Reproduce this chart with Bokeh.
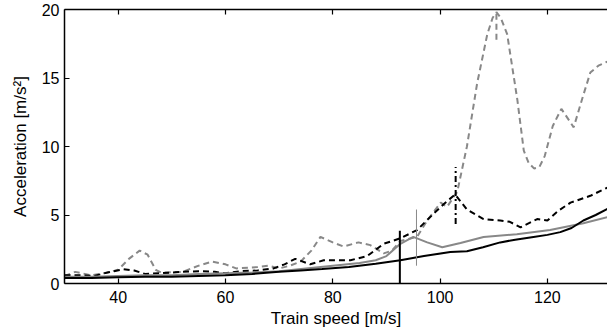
from bokeh.plotting import figure
from bokeh.models import LinearAxis, Range1d, FixedTicker
from bokeh.embed import file_html
from bokeh.resources import INLINE

# ---- data ----
bs_x = [30, 35, 40, 45, 50, 55, 60, 65, 70, 74, 78, 83, 88, 92.6, 97, 101.9, 105, 108, 111.2, 114, 117.4, 120, 122.4, 124.5, 126.7, 129, 131.2]
bs_y = [0.4, 0.4, 0.45, 0.5, 0.5, 0.55, 0.6, 0.7, 0.85, 0.95, 1.05, 1.2, 1.45, 1.7, 2.0, 2.3, 2.35, 2.65, 3.0, 3.2, 3.4, 3.55, 3.75, 4.05, 4.6, 5.0, 5.45]

gs_x = [30, 35, 40, 45, 50, 55, 60, 65, 70, 75, 80, 85, 88, 90, 92.6, 95, 97.6, 100.4, 103.8, 108.1, 114.3, 120.5, 126.7, 131.2]
gs_y = [0.5, 0.5, 0.55, 0.6, 0.6, 0.7, 0.75, 0.8, 0.9, 1.1, 1.3, 1.5, 1.7, 2.0, 2.9, 3.4, 3.0, 2.65, 2.95, 3.4, 3.6, 3.9, 4.4, 4.85]

bd_x = [30, 33, 35.5, 38, 41, 43, 45, 48, 52, 55, 58, 60, 63, 66, 69, 71, 73, 75.8, 78.3, 81, 83.3, 86.4, 89.5, 92.6, 95.7, 98.8, 100.7, 102.8, 105, 108.1, 111.2, 113, 115, 118.1, 120, 122, 124.3, 128, 131.2]
bd_y = [0.6, 0.6, 0.55, 0.8, 1.05, 0.95, 0.7, 0.75, 0.85, 0.9, 0.85, 0.75, 0.9, 0.95, 1.1, 1.4, 1.8, 1.4, 1.7, 1.7, 1.7, 2.0, 2.9, 3.3, 3.9, 5.1, 5.8, 6.5, 5.4, 4.7, 4.6, 4.5, 4.1, 4.7, 4.6, 5.3, 5.9, 6.4, 7.0]

gd_x = [30, 32, 35, 38, 40, 42, 44, 45.5, 47, 48, 52, 55, 57.5, 60, 62, 66, 68, 70, 72, 74, 76, 77.7, 80, 82, 84.8, 87, 89.5, 91, 92.6, 95.7, 97.6, 100.1, 101.3, 103.2, 105, 106.9, 108.8, 109.8, 110.5, 111.3, 112.5, 114.4, 115.6, 116.5, 117.5, 118.5, 119.5, 121, 122.6, 124.9, 126.5, 128, 129.5, 131.2]
gd_y = [0.55, 0.85, 0.6, 0.8, 1.0, 1.8, 2.4, 2.1, 1.0, 0.8, 0.85, 1.3, 1.6, 1.4, 1.1, 1.2, 1.3, 1.1, 1.3, 1.6, 2.4, 3.4, 3.0, 2.7, 3.0, 2.8, 2.2, 2.4, 3.1, 3.4, 4.6, 5.9, 5.6, 6.7, 10.0, 14.6, 18.2, 19.4, 19.8, 19.4, 18.2, 13.4, 9.7, 8.8, 8.4, 8.5, 9.3, 11.5, 12.75, 11.4, 13.5, 15.4, 15.9, 16.2]

# resonance markers (speed, lower, upper)
mk_bs = [92.5, 0.0, 3.85]
mk_gs = [95.6, 1.3, 5.4]
mk_bd = [102.9, 4.35, 8.5]
mk_gd = [110.5, 17.8, 20.0]

x_ticks = [40, 60, 80, 100, 120]
y_ticks = [0, 5, 10, 15, 20]

GRAY = "#888888"
FONT = "Liberation Sans"

p = figure(width=607, height=336, output_backend="svg", toolbar_location=None,
           x_range=Range1d(30, 131.2), y_range=Range1d(0, 20),
           min_border_left=64, min_border_right=0, min_border_top=9, min_border_bottom=53,
           x_axis_label="Train speed [m/s]", y_axis_label="Acceleration [m/s²]")
p.grid.visible = False
p.outline_line_color = None
p.background_fill_color = "white"
p.border_fill_color = "white"

for ax in (p.xaxis[0], p.yaxis[0]):
    ax.major_tick_in = 5
    ax.major_tick_out = 0
    ax.minor_tick_line_color = None
    ax.axis_line_width = 1.5
    ax.major_tick_line_width = 1.2
    ax.major_label_text_font = FONT
    ax.major_label_text_font_size = "16px"
    ax.major_label_text_color = "black"
    ax.axis_label_text_font = FONT
    ax.axis_label_text_font_size = "17px"
    ax.axis_label_text_font_style = "normal"
    ax.axis_label_text_color = "black"

p.xaxis[0].ticker = FixedTicker(ticks=x_ticks)
p.yaxis[0].ticker = FixedTicker(ticks=y_ticks)
p.xaxis[0].major_label_standoff = 7
p.xaxis[0].axis_label_standoff = 3
p.yaxis[0].major_label_standoff = 5
p.yaxis[0].axis_label_standoff = 9

top = LinearAxis(ticker=FixedTicker(ticks=x_ticks), major_tick_in=5, major_tick_out=0,
                 minor_tick_line_color=None,
                 major_label_overrides={t: "" for t in x_ticks},
                 major_label_standoff=0, axis_line_width=1.5, major_tick_line_width=1.2)
p.add_layout(top, "above")

# curves
p.line(gd_x, gd_y, line_color=GRAY, line_width=2, line_dash="6 4")
p.line(bd_x, bd_y, line_color="black", line_width=2, line_dash="6 4")
p.line(gs_x, gs_y, line_color=GRAY, line_width=2)
p.line(bs_x, bs_y, line_color="black", line_width=2)

# markers
p.segment(x0=[mk_bs[0]], y0=[mk_bs[1]], x1=[mk_bs[0]], y1=[mk_bs[2]], line_color="black", line_width=2)
p.segment(x0=[mk_gs[0]], y0=[mk_gs[1]], x1=[mk_gs[0]], y1=[mk_gs[2]], line_color=GRAY, line_width=1)
p.segment(x0=[mk_bd[0]], y0=[mk_bd[1]], x1=[mk_bd[0]], y1=[mk_bd[2]], line_color="black", line_width=2, line_dash="6 3 2 3")
p.segment(x0=[mk_gd[0]], y0=[mk_gd[1]], x1=[mk_gd[0]], y1=[mk_gd[2]], line_color=GRAY, line_width=2, line_dash="6 4")

open("out.html", "w").write(file_html(p, INLINE))
